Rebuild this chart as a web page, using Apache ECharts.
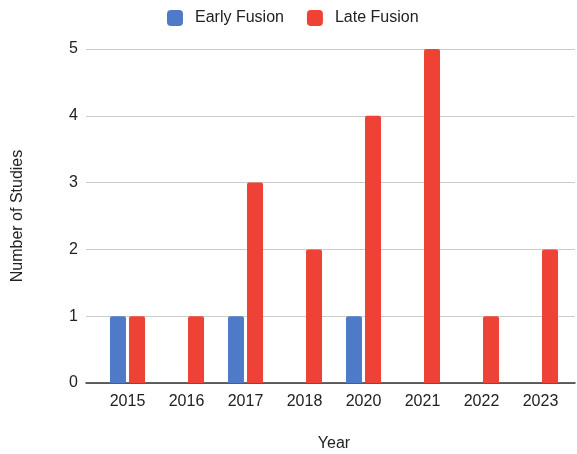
<!DOCTYPE html>
<html><head><meta charset="utf-8">
<script src="https://cdn.jsdelivr.net/npm/echarts@6/dist/echarts.min.js"></script>
<style>html,body{margin:0;padding:0;background:#fff}#c{width:577px;height:454px}</style>
</head><body><div id="c"></div>
<script>
const years = ['2015','2016','2017','2018','2020','2021','2022','2023'];
const earlyFusion = [1,0,1,0,1,0,0,0];
const lateFusion = [1,1,3,2,4,5,1,2];
const yTicks = [0,1,2,3,4,5];

const chart = echarts.init(document.getElementById('c'));
const font = 'Arial, "Liberation Sans", sans-serif';
const yMin = yTicks[0], yMax = yTicks[yTicks.length-1];
chart.setOption({
  animation:false,
  textStyle:{fontFamily:font},
  legend:{top:5,left:162,itemWidth:16,itemHeight:16,itemGap:23,icon:'roundRect',
    textStyle:{fontSize:16,color:'#222',fontFamily:font,padding:[0,0,0,7]},
    data:['Early Fusion','Late Fusion']},
  grid:[
    {left:98,right:7,top:49,bottom:71,containLabel:false,outerBoundsMode:'none'},
    {left:86,right:2,top:49,bottom:71,containLabel:false,outerBoundsMode:'none'}
  ],
  xAxis:[
    {type:'category',data:years,gridIndex:0,name:'Year',nameLocation:'middle',nameGap:53,
     nameTextStyle:{fontSize:16,color:'#222',fontFamily:font},
     axisLine:{show:false},axisTick:{show:false},
     axisLabel:{fontSize:16,color:'#222',margin:11,fontFamily:font}},
    {type:'value',gridIndex:1,min:0,max:1,
     axisLine:{show:true,onZero:false,lineStyle:{color:'#333',width:1.5}},
     axisTick:{show:false},axisLabel:{show:false},splitLine:{show:false}}
  ],
  yAxis:[
    {type:'value',gridIndex:0,min:yMin,max:yMax,interval:1,
     name:'Number of Studies',nameLocation:'middle',nameGap:72,
     nameTextStyle:{fontSize:16,color:'#222',fontFamily:font},
     axisLine:{show:false},axisTick:{show:false},splitLine:{show:false},
     axisLabel:{fontSize:16,color:'#222',margin:20,fontFamily:font}},
    {type:'value',gridIndex:1,min:yMin,max:yMax,interval:1,
     axisLine:{show:false},axisTick:{show:false},axisLabel:{show:false},
     splitLine:{lineStyle:{color:'#ccc'}}}
  ],
  series:[
    {name:'Early Fusion',type:'bar',data:earlyFusion,barWidth:16,barGap:'19%',
     xAxisIndex:0,yAxisIndex:0,z:3,
     itemStyle:{color:'#4E7AC7',borderRadius:[2,2,0,0]}},
    {name:'Late Fusion',type:'bar',data:lateFusion,barWidth:16,
     xAxisIndex:0,yAxisIndex:0,z:3,
     itemStyle:{color:'#EE4236',borderRadius:[2,2,0,0]}}
  ]
});
</script></body></html>
